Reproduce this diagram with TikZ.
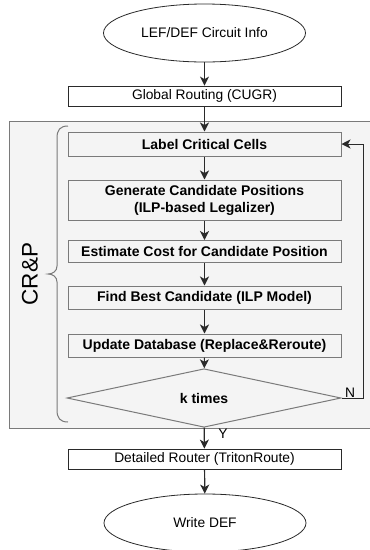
\documentclass[tikz,border=0pt]{standalone}
\usepackage{fontspec}
\setmainfont{Liberation Sans}
\usetikzlibrary{arrows.meta,shapes.geometric}
\definecolor{panel}{HTML}{F4F4F4}
\definecolor{edge}{HTML}{7A7A7A}
\definecolor{ink}{HTML}{2A2A2A}
\tikzset{
  flow/.style={draw=ink, line width=1.2pt, -{Stealth[length=9pt,width=9pt,inset=2.5pt]}},
  loopline/.style={draw=ink, line width=1pt, -{Stealth[length=9pt,width=9pt,inset=2.5pt]}},
  terminal/.style={ellipse, draw=ink, line width=0.8pt, fill=white, minimum width=202pt, minimum height=58pt, inner sep=0pt,
    font=\fontsize{13.8}{16}\selectfont},
  outerbox/.style={rectangle, draw=ink, line width=0.8pt, fill=white, minimum width=273pt, minimum height=20pt, inner sep=0pt,
    font=\fontsize{13.8}{16}\selectfont},
  stagebox/.style={rectangle, draw=edge, line width=1pt, fill=panel, minimum width=273pt, inner sep=0pt, align=center,
    font=\fontsize{14}{17}\selectfont\bfseries},
  decision/.style={diamond, draw=edge, line width=1pt, fill=panel, minimum width=274pt, minimum height=50pt, inner sep=0pt,
    font=\fontsize{14}{17}\selectfont\bfseries},
  tag/.style={font=\fontsize{13.8}{16}\selectfont, inner sep=0pt}
}
\begin{document}
\begin{tikzpicture}[x=1pt,y=-1pt]
\useasboundingbox (0,0) rectangle (370,550);
\clip (0,0) rectangle (370,550);

% CR&P panel
\draw[fill=panel, draw=edge, line width=1pt] (9,121) rectangle (374,428);

% nodes
\node[terminal] (src) at (204.5,33) {LEF/DEF Circuit Info};
\node[outerbox] (gr) at (204.5,96) {Global Routing (CUGR)};
\node[stagebox, minimum height=24pt] (lcc) at (204.5,144) {Label Critical Cells};
\node[stagebox, minimum height=40pt] (gen) at (204.5,200) {Generate Candidate Positions\\(ILP-based Legalizer)};
\node[stagebox, minimum height=22pt] (est) at (204.5,251.5) {Estimate Cost for Candidate Position};
\node[stagebox, minimum height=23pt] (fbc) at (204.5,297.5) {Find Best Candidate (ILP Model)};
\node[stagebox, minimum height=23pt] (upd) at (204.5,345.5) {Update Database (Replace\&Reroute)};
\node[decision] (kt) at (204,398) {k times};
\node[outerbox] (dr) at (204.5,459) {Detailed Router (TritonRoute)};
\node[terminal] (out) at (205,523) {Write DEF};

% brace and panel title
\draw[edge, line width=1pt]
  (68,126) .. controls (60,126) and (57,130) .. (57,138) -- (57,266)
  .. controls (57,271) and (53,274) .. (48,274)
  .. controls (53,274) and (57,277) .. (57,282) -- (57,410)
  .. controls (57,418) and (60,422) .. (68,422);
\node[rotate=90, font=\fontsize{22.5}{24}\selectfont, inner sep=0pt] (crp) at (30,274) {CR\&P};

% main flow
\draw[flow] (src) -- (gr);
\draw[flow] (gr) -- (lcc);
\draw[flow] (lcc) -- (gen);
\draw[flow] (gen) -- (est);
\draw[flow] (est) -- (fbc);
\draw[flow] (fbc) -- (upd);
\draw[flow] (upd) -- (kt);
\draw[flow] (kt) -- (dr);
\draw[flow] (dr) -- (out);

% iteration loop
\coordinate (back) at (363,401);
\draw[loopline] (kt.east) -- (kt.east -| back) |- (lcc.east);

\node[tag] (n) at (350,393) {N};
\node[tag] (y) at (223,434) {Y};
\end{tikzpicture}
\end{document}
